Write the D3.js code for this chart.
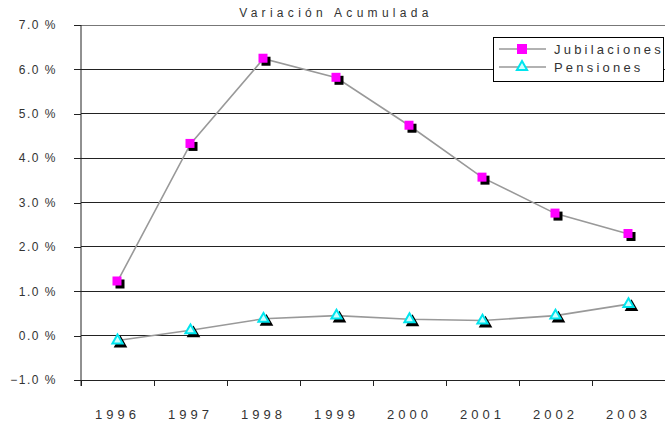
<!DOCTYPE html>
<html>
<head>
<meta charset="utf-8">
<script src="https://cdn.jsdelivr.net/npm/d3@7"></script>
<style>
  body{margin:0;background:#fff;}
  text{font-family:"Liberation Sans",Arial,sans-serif;fill:#333;}
</style>
</head>
<body>
<svg width="665" height="423"></svg>
<script>
var years=['1996','1997','1998','1999','2000','2001','2002','2003'];
var jubilaciones=[1.22,4.32,6.24,5.81,4.73,3.56,2.75,2.29];
var pensiones=[-0.11,0.12,0.38,0.45,0.37,0.34,0.45,0.71];
var yTicks=[-1,0,1,2,3,4,5,6,7];
var seriesNames=['Jubilaciones','Pensiones'];

var drawGraph=function(){
  let svg=d3.select('body').select('svg');
  let margin={top:25,bottom:43,right:0,left:81};
  let plotWidth=665-margin.left-margin.right;
  let plotHeight=423-margin.top-margin.bottom;

  let xScale=d3.scaleBand()
    .domain(years)
    .range([0,plotWidth]);
  let yScale=d3.scaleLinear()
    .domain([-1,7])
    .range([plotHeight,0]);

  let plot=svg.append('g').attr('id','plot')
    .attr('transform','translate('+margin.left+','+margin.top+')');

  // title
  svg.append('text')
    .attr('x',336).attr('y',17)
    .attr('text-anchor','middle')
    .style('font-size','12px')
    .style('letter-spacing','4.3px')
    .text('Variación Acumulada');

  // gridlines
  plot.selectAll('line.grid')
    .data(yTicks)
    .enter().append('line')
    .attr('class','grid')
    .attr('x1',0).attr('x2',plotWidth)
    .attr('y1',function(d){return yScale(d);})
    .attr('y2',function(d){return yScale(d);})
    .attr('stroke',function(d){return d==7?'#777':'#222';})
    .attr('stroke-width',1)
    .attr('shape-rendering','crispEdges');

  // y axis
  let yAxis=d3.axisLeft(yScale)
    .tickValues(yTicks)
    .tickSize(7)
    .tickPadding(17)
    .tickFormat(function(d){return d.toFixed(1).replace('-','\u2212')+' %';});
  let yGroup=plot.append('g').attr('id','y-axis').call(yAxis);
  yGroup.select('.domain').attr('stroke','#222').attr('d','M0,0V'+(plotHeight+6));
  yGroup.selectAll('.tick line').attr('stroke','#222').attr('shape-rendering','crispEdges');
  yGroup.selectAll('text')
    .style('font-size','12px')
    .style('letter-spacing','1.5px')
    .attr('fill','#333')
    .style('font-family','"Liberation Sans",Arial,sans-serif');

  // x axis: ticks at band boundaries
  let xGroup=plot.append('g').attr('id','x-axis')
    .attr('transform','translate(0,'+plotHeight+')');
  xGroup.selectAll('line.xtick')
    .data(years)
    .enter().append('line')
    .attr('class','xtick')
    .attr('x1',function(d){return xScale(d);})
    .attr('x2',function(d){return xScale(d);})
    .attr('y1',0).attr('y2',6)
    .attr('stroke','#222')
    .attr('shape-rendering','crispEdges');
  xGroup.selectAll('text.xlabel')
    .data(years)
    .enter().append('text')
    .attr('class','xlabel')
    .attr('x',function(d){return xScale(d)+xScale.bandwidth()/2;})
    .attr('y',39)
    .attr('text-anchor','middle')
    .style('font-size','13px')
    .style('letter-spacing','4px')
    .text(function(d){return d;});

  let line=d3.line()
    .x(function(d,i){return xScale(years[i])+xScale.bandwidth()/2;})
    .y(function(d){return yScale(d);});

  [jubilaciones,pensiones].forEach(function(vals){
    plot.append('path')
      .datum(vals)
      .attr('d',line)
      .attr('fill','none')
      .attr('stroke','#999')
      .attr('stroke-width',1.6);
  });

  let cx=function(d,i){return xScale(years[i])+xScale.bandwidth()/2;};
  let tri=d3.symbol().type(d3.symbolTriangle).size(45);

  // square markers
  let sq=plot.selectAll('g.sq')
    .data(jubilaciones)
    .enter().append('g')
    .attr('class','sq')
    .attr('transform',function(d,i){return 'translate('+cx(d,i)+','+yScale(d)+')';});
  sq.append('rect')
    .attr('x',-2).attr('y',-2).attr('width',9).attr('height',9)
    .attr('fill','#000');
  sq.append('rect')
    .attr('x',-5).attr('y',-5).attr('width',9).attr('height',9)
    .attr('fill','#ff00ff');

  // triangle markers
  let tr=plot.selectAll('g.tr')
    .data(pensiones)
    .enter().append('g')
    .attr('class','tr')
    .attr('transform',function(d,i){return 'translate('+cx(d,i)+','+yScale(d)+')';});
  tr.append('path')
    .attr('d',tri)
    .attr('transform','translate(3,3)')
    .attr('fill','#000')
    .attr('stroke','#000')
    .attr('stroke-width',2);
  tr.append('path')
    .attr('d',tri)
    .attr('fill','#ccffff')
    .attr('stroke','#00e5ee')
    .attr('stroke-width',2);

  // legend
  let legend=svg.append('g').attr('id','legend')
    .attr('transform','translate(493,37)');
  legend.append('rect')
    .attr('x',0.5).attr('y',0.5)
    .attr('width',170).attr('height',44)
    .attr('fill','#fff')
    .attr('stroke','#000');
  let rows=legend.selectAll('g.row')
    .data(seriesNames)
    .enter().append('g')
    .attr('class','row')
    .attr('transform',function(d,i){return 'translate(0,'+(12+i*18)+')';});
  rows.append('line')
    .attr('x1',6).attr('x2',53)
    .attr('y1',0).attr('y2',0)
    .attr('stroke','#999').attr('stroke-width',1.6);
  rows.filter(function(d,i){return i==0;})
    .append('rect')
    .attr('x',24).attr('y',-5).attr('width',10).attr('height',10)
    .attr('fill','#ff00ff');
  rows.filter(function(d,i){return i==1;})
    .append('path')
    .attr('d',tri)
    .attr('transform','translate(29,0)')
    .attr('fill','#ccffff')
    .attr('stroke','#00e5ee')
    .attr('stroke-width',2);
  rows.append('text')
    .attr('x',61).attr('y',5)
    .style('font-size','13px')
    .style('letter-spacing','3.2px')
    .text(function(d){return d;});
};

drawGraph();
</script>
</body>
</html>
